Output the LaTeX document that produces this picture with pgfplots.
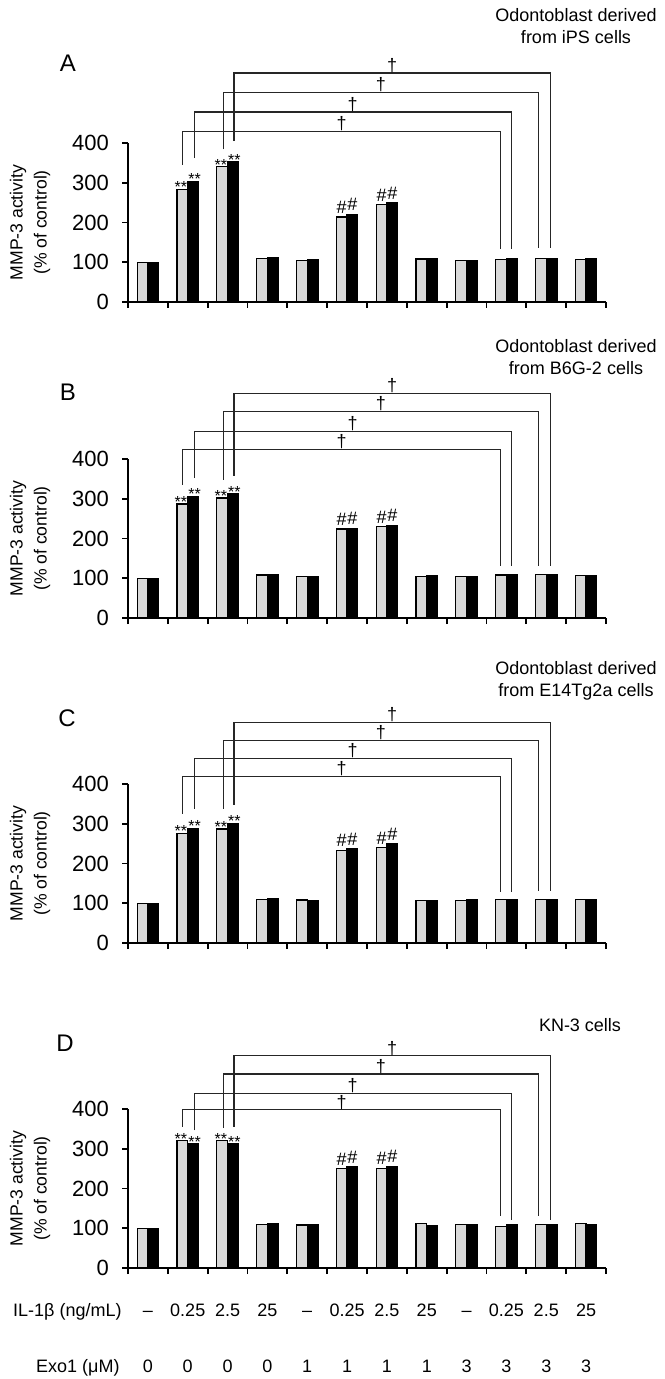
\documentclass[border=0pt]{standalone}
\usepackage{fontspec}
\setmainfont{Liberation Sans}
\usepackage{pgfplots}
\usepackage{pgfplotstable}
\pgfplotsset{compat=1.18}

% columns: group, IL-1b alone (grey), IL-1b + vehicle (black)
\pgfplotstableread{
x gray black
0  100 100
1  284 303
2  340 352
3  110 111
4  104 106
5  214 221
6  245 249
7  108 109
8  104 104
9  107 108
10 110 108
11 106 108
}\dataA
\pgfplotstableread{
x gray black
0  100 100
1  287 305
2  302 312
3  108 108
4  105 105
5  224 226
6  230 233
7  105 106
8  104 104
9  108 109
10 109 109
11 106 107
}\dataB
\pgfplotstableread{
x gray black
0  100 100
1  275 288
2  287 300
3  110 112
4  108 107
5  233 238
6  240 250
7  106 106
8  106 108
9  109 108
10 109 110
11 109 110
}\dataC
\pgfplotstableread{
x gray black
0  100 100
1  320 312
2  320 312
3  110 111
4  108 108
5  250 254
6  251 256
7  112 106
8  110 109
9  105 108
10 110 108
11 111 110
}\dataD

\newcommand\tickfont{\fontsize{11}{13}\selectfont}
\newcommand\smallfont{\fontsize{9}{11}\selectfont}

\pgfplotsset{
  panel/.style={
    scale only axis, width=239pt, height=79.5pt,
    xmin=-0.5, xmax=11.5, ymin=0, ymax=400,
    axis lines*=left,
    axis line style={line width=0.9pt},
    ytick={0,100,200,300,400},
    xtick={-0.5,0.5,...,11.5}, xticklabels={},
    tick align=outside, major tick length=3pt,
    tick style={line width=0.9pt, black},
    yticklabel style={font=\tickfont, xshift=-3pt},
    /pgf/number format/assume math mode=true,
    clip=false,
  },
  gbar/.style={ybar, bar width=0.27, bar shift=-0.135, fill=gray!30, draw=black, line width=0.6pt},
  kbar/.style={ybar, bar width=0.27, bar shift=0.135, fill=black, draw=black, line width=0.6pt},
}
\tikzset{
  starnode/.style={font=\fontsize{8}{9}\selectfont, anchor=base, inner sep=0pt, yshift=-1.6pt},
  hashnode/.style={font=\smallfont, anchor=south, inner sep=0pt, yshift=1.5pt},
  bline/.style={black!85, line width=0.55pt},
  rowlab/.style={font=\smallfont, anchor=base, inner sep=0pt},
}

% #1 left x, #2 right x, #3 level, #4 left foot, #5 right foot
\newcommand{\bracket}[5]{%
  \draw[bline] (axis cs:#1,#4) -- (axis cs:#1,#3) -- (axis cs:#2,#3) -- (axis cs:#2,#5);
  \node[font=\smallfont, anchor=south, inner sep=0pt] at (axis cs:{(#1+#2)/2},#3) {†};}
% stars over a grey/black pair: #1 group, #2 grey top, #3 black top
\newcommand{\stars}[3]{%
  \node[starnode, xshift=-0.7pt] at (axis cs:#1-0.135,#2) {**};
  \node[starnode, xshift=0.7pt] at (axis cs:#1+0.135,#3) {**};}
\newcommand{\hash}[3]{%
  \node[hashnode] at (axis cs:#1-0.135,#2) {\#};
  \node[hashnode] at (axis cs:#1+0.135,#3) {\#};}
\newcommand{\ylab}{\node[rotate=90, align=center, font=\fontsize{8.8}{12}\selectfont]
  at ([xshift=-49pt]rel axis cs:0,0.5) {MMP-3 activity\\(\% of control)};}
\newcommand{\lab}[3]{%
  \node[rowlab] at ([yshift=-24pt]axis cs:#1,0) {#2};
  \node[rowlab] at ([yshift=-52pt]axis cs:#1,0) {#3};}

\begin{document}
\begin{tikzpicture}
\path[use as bounding box] (0,0) rectangle (332pt,-689.5pt);

% ---- A
\node[font=\smallfont, align=center] at (288pt,-13pt) {Odontoblast derived\\from iPS cells};
\node[font=\fontsize{12}{14}\selectfont] at (34pt,-31.5pt) {A};
\begin{axis}[panel, at={(64pt,-151pt)}, anchor=south west]
  \addplot[gbar] table[x=x,y=gray]{\dataA};
  \addplot[kbar] table[x=x,y=black]{\dataA};
  \stars{1}{284}{303}\stars{2}{340}{352}
  \hash{5}{214}{221}\hash{6}{245}{249}
  \bracket{0.87}{8.85}{430}{345}{133}
  \bracket{1.16}{9.12}{478}{362}{133}
  \bracket{1.9}{9.8}{528}{384}{135}
  \bracket{2.16}{10.1}{576}{405}{135}
  \ylab
\end{axis}

% ---- B
\node[font=\smallfont, align=center] at (288pt,-178.5pt) {Odontoblast derived\\from B6G-2 cells};
\node[font=\fontsize{12}{14}\selectfont] at (34pt,-196pt) {B};
\begin{axis}[panel, at={(64pt,-309pt)}, anchor=south west]
  \addplot[gbar] table[x=x,y=gray]{\dataB};
  \addplot[kbar] table[x=x,y=black]{\dataB};
  \stars{1}{287}{305}\stars{2}{302}{312}
  \hash{5}{224}{226}\hash{6}{230}{233}
  \bracket{0.87}{8.85}{425}{335}{130}
  \bracket{1.16}{9.12}{470}{352}{130}
  \bracket{1.9}{9.8}{520}{348}{132}
  \bracket{2.16}{10.1}{565}{358}{132}
  \ylab
\end{axis}

% ---- C
\node[font=\smallfont, align=center] at (288pt,-340.5pt) {Odontoblast derived\\from E14Tg2a cells};
\node[font=\fontsize{12}{14}\selectfont] at (33.5pt,-359pt) {C};
\begin{axis}[panel, at={(64pt,-471.5pt)}, anchor=south west]
  \addplot[gbar] table[x=x,y=gray]{\dataC};
  \addplot[kbar] table[x=x,y=black]{\dataC};
  \stars{1}{275}{288}\stars{2}{287}{300}
  \hash{5}{233}{238}\hash{6}{240}{250}
  \bracket{0.87}{8.85}{420}{325}{128}
  \bracket{1.16}{9.12}{465}{338}{128}
  \bracket{1.9}{9.8}{510}{338}{130}
  \bracket{2.16}{10.1}{555}{348}{130}
  \ylab
\end{axis}

% ---- D
\node[font=\smallfont] at (290pt,-512.5pt) {KN-3 cells};
\node[font=\fontsize{12}{14}\selectfont] at (32.5pt,-521.5pt) {D};
\begin{axis}[panel, at={(64pt,-634pt)}, anchor=south west]
  \addplot[gbar] table[x=x,y=gray]{\dataD};
  \addplot[kbar] table[x=x,y=black]{\dataD};
  \stars{1}{320}{312}\stars{2}{320}{312}
  \hash{5}{250}{254}\hash{6}{251}{256}
  \bracket{0.87}{8.85}{398}{355}{130}
  \bracket{1.16}{9.12}{440}{346}{122}
  \bracket{1.9}{9.8}{488}{352}{130}
  \bracket{2.16}{10.1}{534}{355}{122}
  \ylab
  \lab{0}{--}{0}\lab{1}{0.25}{0}\lab{2}{2.5}{0}\lab{3}{25}{0}
  \lab{4}{--}{1}\lab{5}{0.25}{1}\lab{6}{2.5}{1}\lab{7}{25}{1}
  \lab{8}{--}{3}\lab{9}{0.25}{3}\lab{10}{2.5}{3}\lab{11}{25}{3}
  \node[rowlab, anchor=base east] at ([xshift=-3pt,yshift=-24pt]rel axis cs:0,0) {IL-1β (ng/mL)};
  \node[rowlab, anchor=base east] at ([xshift=-4pt,yshift=-52pt]rel axis cs:0,0) {Exo1 (μM)};
\end{axis}
\end{tikzpicture}
\end{document}
